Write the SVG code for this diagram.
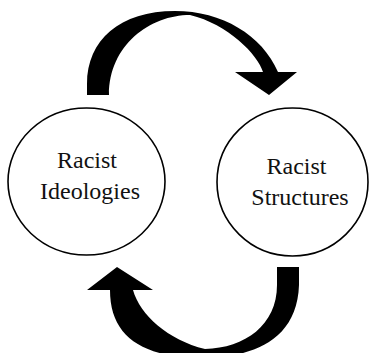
<svg xmlns="http://www.w3.org/2000/svg" width="371" height="353" viewBox="0 0 371 353">
  <style>
    .node { fill: #ffffff; stroke: #000000; stroke-width: 1.6; }
    .arrow { fill: #000000; stroke: none; }
  </style>
  <rect width="371" height="353" fill="#ffffff"/>
  <g id="connectors">
    <path id="arrow-top" class="arrow" d="M87,95 L87,84 C87,40 120,11 175,11 C222,11 262,35 278,72 L297,72 L269,95 L235,72 L263,72 C258,55 228,24 190,15 C150,15 109,45 109,95 Z"/>
    <path id="arrow-bottom" class="arrow" d="M299,267 L299,285 C297,345 245,358 200,358 C140,357 110,335 110,290 L87,290 L117,267 L153,290 L133,290 C140,315 168,340 205,349 C245,348 277,325 277,285 L277,267 Z"/>
  </g>
  <g id="node-ideologies" font-family="Liberation Serif" font-size="24" fill="#111111" text-anchor="middle">
    <ellipse class="node" cx="86.5" cy="181.5" rx="78.5" ry="73.5"/>
    <text x="87" y="167.5">Racist</text>
    <text x="90" y="199">Ideologies</text>
  </g>
  <g id="node-structures" font-family="Liberation Serif" font-size="24" fill="#111111" text-anchor="middle">
    <ellipse class="node" cx="292.5" cy="182" rx="75.5" ry="74"/>
    <text x="296.5" y="173.5">Racist</text>
    <text x="300" y="205">Structures</text>
  </g>
</svg>
